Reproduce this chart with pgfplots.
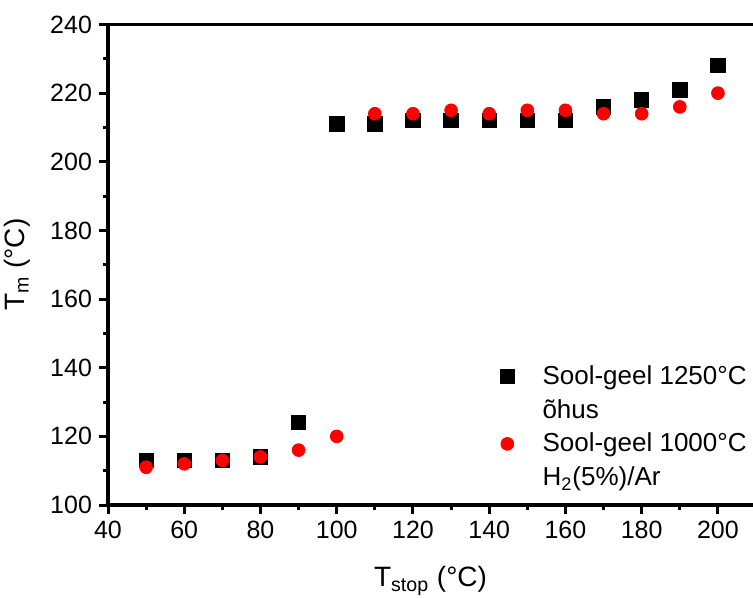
\documentclass[border=0pt]{standalone}
\usepackage{fontspec}
\setmainfont{Liberation Sans}
\usepackage{pgfplots}
\pgfplotsset{compat=1.18}
\begin{document}
\begin{tikzpicture}
\begin{axis}[
 at={(0,0)}, anchor=south west,
 scale only axis, width=322.5bp, height=240.25bp,
 xmin=40, xmax=209.2, ymin=100, ymax=240,
 axis lines*=left,
 axis line style={-, line width=1.75bp},
 xtick={40,60,...,200}, ytick={100,120,...,240},
 minor x tick num=1, minor y tick num=1,
 tick align=outside,
 major tick length=4.5bp, minor tick length=2.5bp,
 tick style={black, line width=1.5bp},
 tick label style={font=\fontsize{12.5bp}{15bp}\selectfont},
 /pgf/number format/assume math mode=true,
 xlabel={T\textsubscript{stop} (°C)}, ylabel={T\textsubscript{m} (°C)},
 every axis x label/.style={at={(axis description cs:0.5,-0.158)}, anchor=center, font=\fontsize{14bp}{16bp}\selectfont},
 every axis y label/.style={at={(axis description cs:-0.141,0.5)}, anchor=center, rotate=90, font=\fontsize{14bp}{16bp}\selectfont},
 legend style={at={(axis description cs:0.586,0.308)}, anchor=north west, draw=none, fill=none,
   font=\fontsize{13bp}{15bp}\selectfont, row sep=2bp,
   /tikz/every even column/.append style={column sep=8bp}},
 legend cell align=left,
 legend image post style={xshift=-1bp},
 clip=false,
]
\addplot[only marks, mark=square*, black, mark size=3.6bp] coordinates {
(50,113) (60,113) (70,113) (80,114) (90,124) (100,211) (110,211) (120,212)
(130,212) (140,212) (150,212) (160,212) (170,216) (180,218) (190,221) (200,228)};
\addlegendentry{\hspace{12bp}Sool-geel 1250°C}
\addlegendimage{empty legend}
\addlegendentry{\hspace{12bp}õhus}
\addplot[only marks, mark=*, red, mark size=3.2bp] coordinates {
(50,111) (60,112) (70,113) (80,114) (90,116) (100,120) (110,214) (120,214)
(130,215) (140,214) (150,215) (160,215) (170,214) (180,214) (190,216) (200,220)};
\addlegendentry{\hspace{12bp}Sool-geel 1000°C}
\addlegendimage{empty legend}
\addlegendentry{\hspace{12bp}H\textsubscript{2}(5\%)/Ar}
\draw[line width=1.75bp] (rel axis cs:0,1) -- (rel axis cs:1,1);
\end{axis}
\pgfresetboundingbox
\path (-54bp,-46.5bp) rectangle (322.5bp,252.5bp);
\end{tikzpicture}
\end{document}
